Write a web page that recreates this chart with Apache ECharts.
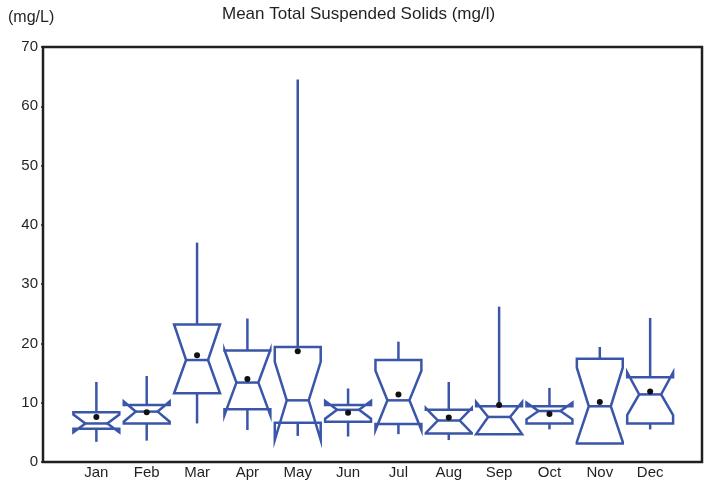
<!DOCTYPE html>
<html>
<head>
<meta charset="utf-8">
<script src="https://cdn.jsdelivr.net/npm/echarts@6/dist/echarts.min.js"></script>
<style>
html, body { margin: 0; padding: 0; background: #fff; }
#chart { width: 704px; height: 481px; }
</style>
</head>
<body>
<div id="chart"></div>
<script>
// monthly notched box plot values (mg/L)
var months = ['Jan', 'Feb', 'Mar', 'Apr', 'May', 'Jun', 'Jul', 'Aug', 'Sep', 'Oct', 'Nov', 'Dec'];
var whiskerLow  = [3.4, 3.6, 6.5, 5.4, 4.4, 4.3, 4.7, 3.7, 4.6, 5.5, 3.0, 5.5];
var q1          = [5.6, 6.5, 11.6, 8.9, 6.6, 6.8, 6.4, 4.8, 4.7, 6.5, 3.1, 6.5];
var notchLow    = [5.0, 6.8, 11.6, 7.9, 3.7, 7.3, 5.4, 4.9, 4.7, 7.2, 3.4, 7.9];
var median      = [6.5, 8.5, 17.2, 13.4, 10.4, 8.8, 10.4, 7.0, 7.6, 8.6, 9.4, 11.4];
var notchHigh   = [8.0, 10.2, 23.2, 18.9, 16.9, 10.3, 15.4, 9.1, 10.1, 10.0, 15.9, 15.1];
var q3          = [8.4, 9.6, 23.2, 18.8, 19.4, 9.6, 17.2, 8.8, 9.4, 9.4, 17.4, 14.3];
var whiskerHigh = [13.5, 14.5, 37.0, 24.2, 64.5, 12.4, 20.3, 13.5, 26.2, 12.5, 19.4, 24.3];
var mean        = [7.6, 8.4, 18.0, 14.0, 18.7, 8.3, 11.4, 7.5, 9.6, 8.1, 10.1, 11.9];
var yTicks = [0, 10, 20, 30, 40, 50, 60, 70];

var boxColor = '#3a56a9';
var textColor = '#231f20';
var font = 'Liberation Sans, Arial, sans-serif';

var data = months.map(function (m, i) {
	return [i, whiskerLow[i], q1[i], notchLow[i], median[i], notchHigh[i], q3[i], whiskerHigh[i], mean[i]];
});

function renderBox(params, api) {
	var x = api.value(0);
	var unit = api.size([1, 0])[0];
	var hw = unit * 0.456, nw = unit * 0.218;
	var c = api.coord([x, 0])[0];
	function y(k) { return api.coord([x, api.value(k)])[1]; }
	var yWl = y(1), yQ1 = y(2), yNl = y(3), yMed = y(4), yNh = y(5), yQ3 = y(6), yWh = y(7), yMean = y(8);
	var stroke = { stroke: boxColor, lineWidth: 2.5, fill: null };
	return {
		type: 'group',
		children: [
			{ type: 'polygon', shape: { points: [
				[c - hw, yQ1], [c - hw, yNl], [c - nw, yMed], [c - hw, yNh], [c - hw, yQ3],
				[c + hw, yQ3], [c + hw, yNh], [c + nw, yMed], [c + hw, yNl], [c + hw, yQ1]
			] }, style: stroke },
			{ type: 'line', shape: { x1: c - nw, y1: yMed, x2: c + nw, y2: yMed }, style: stroke },
			{ type: 'line', shape: { x1: c, y1: yQ3, x2: c, y2: yWh }, style: stroke },
			{ type: 'line', shape: { x1: c, y1: yQ1, x2: c, y2: yWl }, style: stroke },
			{ type: 'circle', shape: { cx: c, cy: yMean, r: 3 }, style: { fill: '#111' } }
		]
	};
}

var myChart = echarts.init(document.getElementById('chart'));
var option = {
	animation: false,
	title: [{
		text: 'Mean Total Suspended Solids (mg/l)',
		left: 222,
		top: 6,
		padding: 0,
		textStyle: { fontSize: 17, fontWeight: 'normal', color: textColor, fontFamily: font }
	}, {
		text: '(mg/L)',
		left: 8,
		top: 10,
		padding: 0,
		textStyle: { fontSize: 16, fontWeight: 'normal', color: textColor, fontFamily: font }
	}],
	grid: {
		left: 43,
		top: 47,
		right: 2,
		bottom: 19,
		show: true,
		borderColor: '#231f20',
		borderWidth: 2.5,
		backgroundColor: '#fff'
	},
	xAxis: {
		type: 'value',
		min: -1.06,
		max: 12.03,
		splitLine: { show: false },
		axisLine: { show: false, onZero: false },
		axisTick: { show: false },
		axisLabel: {
			customValues: months.map(function (m, i) { return i; }),
			formatter: function (v) { return months[Math.round(v)] || ''; },
			color: textColor,
			fontSize: 15,
			fontFamily: font,
			margin: 3
		}
	},
	yAxis: {
		type: 'value',
		min: 0,
		max: 70,
		interval: 10,
		splitLine: { show: false },
		axisLine: { show: false, onZero: false },
		axisTick: { show: true, length: 2, lineStyle: { color: textColor, width: 1.5 } },
		axisLabel: {
			customValues: yTicks,
			color: textColor,
			fontSize: 15,
			fontFamily: font,
			margin: 5
		}
	},
	series: [{
		type: 'custom',
		renderItem: renderBox,
		encode: { x: 0, y: [1, 2, 3, 4, 5, 6, 7, 8] },
		data: data,
		clip: false
	}]
};
myChart.setOption(option, true);
</script>
</body>
</html>
